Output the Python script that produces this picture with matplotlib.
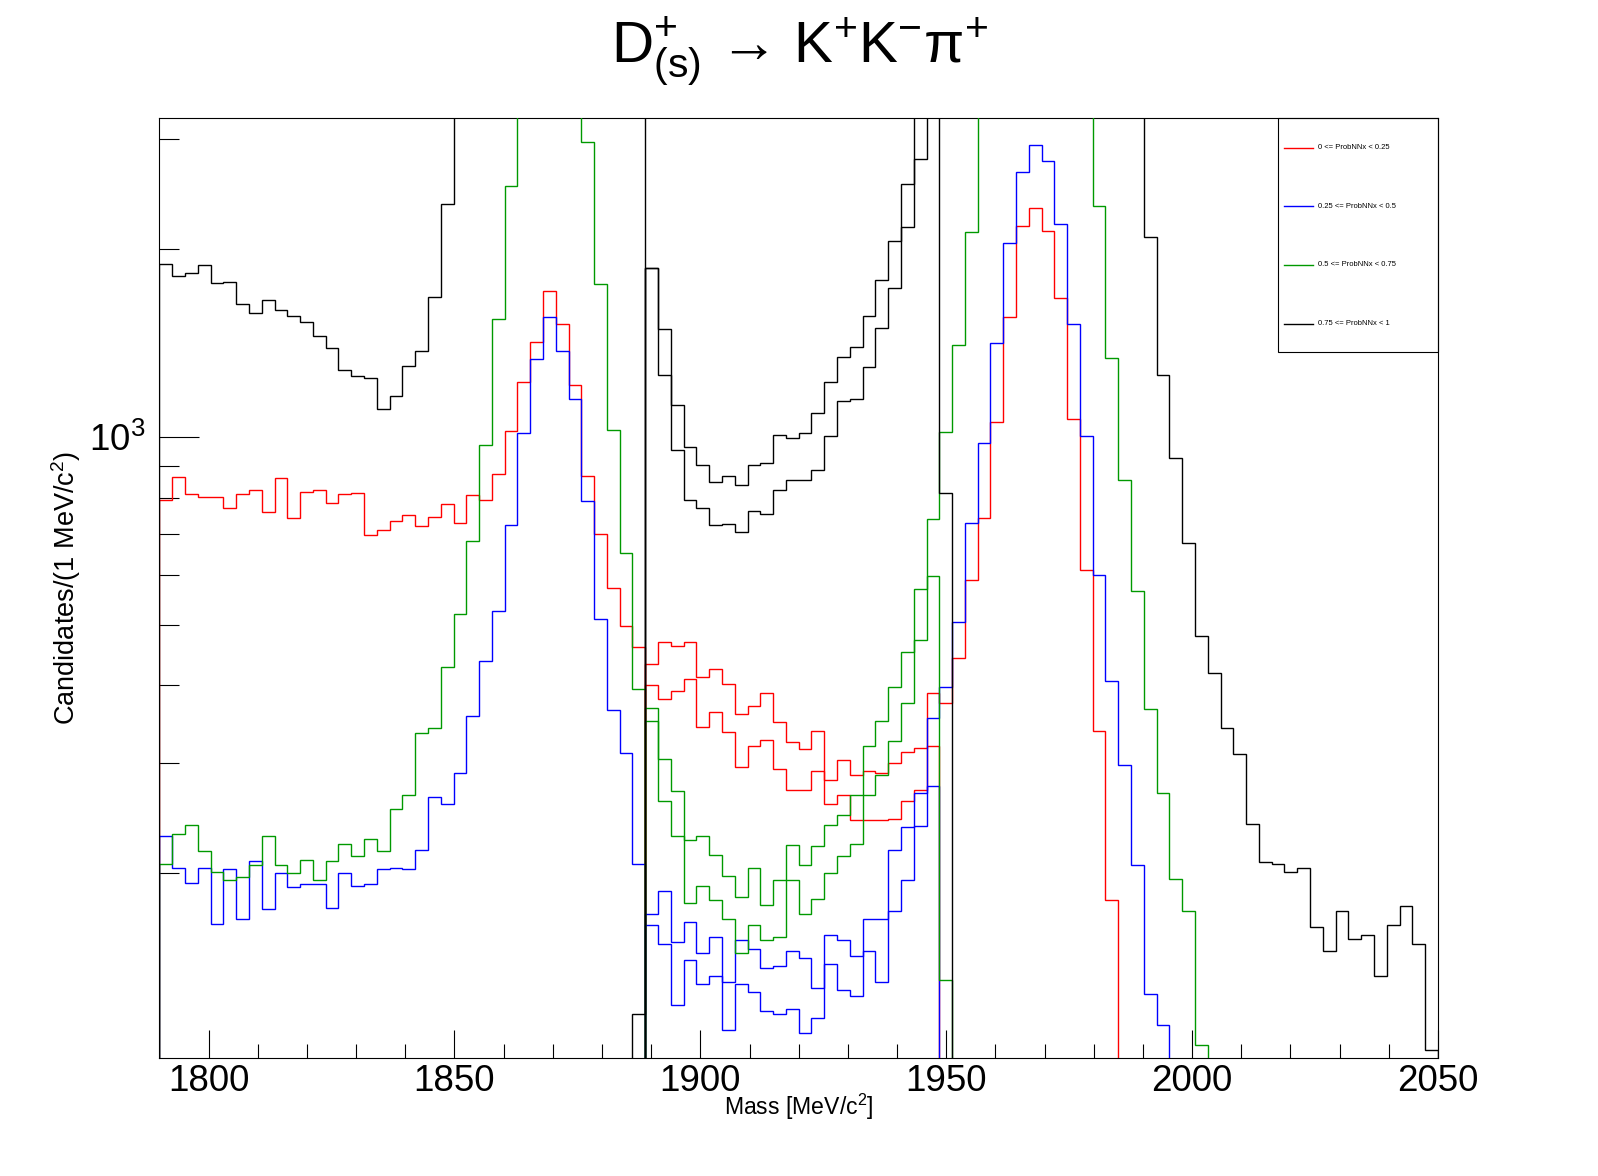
import numpy as np
import matplotlib
matplotlib.use("Agg")
import matplotlib.pyplot as plt
from matplotlib.ticker import FixedLocator, NullFormatter, FixedFormatter
from matplotlib.patches import Rectangle

# ---------------------------------------------------------------
# style (ROOT-like look)
# ---------------------------------------------------------------
plt.rcParams['font.family'] = ['Liberation Sans', 'DejaVu Sans']
plt.rcParams['mathtext.fontset'] = 'custom'
plt.rcParams['mathtext.rm'] = 'Liberation Sans'
plt.rcParams['mathtext.it'] = 'Liberation Sans:italic'
plt.rcParams['mathtext.bf'] = 'Liberation Sans:bold'

# ---------------------------------------------------------------
# binning : 100 bins of 2.6 MeV between 1790 and 2050
# ---------------------------------------------------------------
m_lo, m_hi, n_bins = 1790.0, 2050.0, 100
edges = np.linspace(m_lo, m_hi, n_bins + 1)

# D+ side window (bins 0..37)
red_left = [792, 864, 811, 802, 802, 770, 811, 824, 759, 861, 742, 817, 824, 785, 811,
            814, 697, 710, 734, 751, 721, 745, 782, 729, 808, 794, 874, 1021, 1227, 1422,
            1716, 1519, 1213, 867, 698, 572, 497, 460]
blue_left = [229, 204, 193, 204, 166, 203, 169, 209, 175, 200, 190, 192, 192, 176, 200,
             191, 192, 203, 204, 203, 218, 265, 258, 289, 357, 438, 527, 724, 1016, 1336,
             1559, 1375, 1152, 791, 510, 365, 312, 207]
green_left = [207, 231, 239, 217, 201, 195, 197, 206, 229, 206, 200, 210, 195, 209, 223,
              213, 227, 217, 253, 267, 336, 342, 428, 520, 682, 972, 1544, 2528, 3600, 4500,
              5000, 4700, 3800, 2967, 1757, 1028, 653, 395]
black_left = [1896, 1809, 1834, 1884, 1763, 1774, 1637, 1578, 1660, 1596, 1561, 1532, 1453,
              1391, 1279, 1251, 1242, 1110, 1162, 1301, 1372, 1679, 2366, 3400, 4500, 6200,
              8500, 11500, 14500, 17000, 17500, 16000, 12500, 9000, 6500, 5000, 4200, 3800]

# middle region (bins 38..60), two selections per colour
red_mid_hi = [433, 469, 462, 469, 413, 424, 402, 360, 370, 389, 349, 324, 316, 338, 282,
              304, 287, 292, 289, 300, 313, 317, 389]
red_mid_lo = [400, 380, 391, 409, 343, 362, 337, 296, 320, 327, 294, 272, 272, 292, 258,
              267, 243, 243, 243, 244, 261, 272, 320]
blue_mid_hi = [172, 187, 155, 167, 149, 158, 134, 156, 151, 141, 142, 150, 146, 131, 159,
               156, 147, 169, 169, 218, 237, 269, 354]
blue_mid_lo = [165, 154, 123, 145, 133, 137, 112, 133, 129, 120, 119, 121, 111, 117, 143,
               130, 127, 150, 134, 174, 195, 238, 276]
green_mid_hi = [368, 305, 271, 226, 229, 214, 198, 183, 204, 178, 195, 222, 206, 221, 239,
                248, 267, 320, 351, 398, 452, 571, 740]
green_mid_lo = [350, 261, 229, 179, 191, 181, 169, 149, 165, 156, 158, 195, 172, 182, 200,
                213, 223, 267, 287, 326, 374, 473, 598, 135]          # bins 38..61
black_mid_hi = [1868, 1492, 1127, 965, 903, 848, 867, 839, 903, 908, 1006, 998, 1014, 1094,
                1227, 1345, 1396, 1565, 1787, 2064, 2547, 3500, 3900]
black_mid_lo = [119, 1868, 1259, 952, 792, 770, 724, 726, 705, 762, 754, 822, 852, 852, 887,
                1005, 1144, 1152, 1297, 1497, 1735, 2174, 2793, 3700, 814]  # bins 37..61

# Ds side (starting at bin 61)
red_right = [375, 443, 589, 741, 1056, 1559, 2176, 2325, 2142, 1673, 1070, 613, 338, 181]
blue_right = [397, 506, 729, 979, 1417, 2049, 2663, 2942, 2773, 2198, 1518, 1005, 600, 406,
              298, 206, 128, 114]
green_right = [1017, 1406, 2134, 3300, 4600, 6000, 7200, 7600, 7100, 5900, 4500, 3400, 2348,
               1337, 852, 566, 366, 269, 196, 174, 106]
black_right = [4300, 5200, 7000, 9800, 13500, 18000, 22000, 24000, 22500, 18500, 13500, 9500,
               6500, 4700, 3900, 3400, 2089, 1259, 927, 676, 480, 418, 342, 310, 240, 208,
               207, 201, 204, 164, 150, 174, 157, 159, 137, 165, 177, 154, 104]

legend_labels = ['0 <= ProbNNx < 0.25', '0.25 <= ProbNNx < 0.5',
                 '0.5 <= ProbNNx < 0.75', '0.75 <= ProbNNx < 1']
col_red, col_blue, col_green, col_black = '#ff0000', '#0000ff', '#009900', '#000000'


def draw_hist(ax, first_bin, values, color, z):
    vals = np.asarray(values, dtype=float)
    e = edges[first_bin:first_bin + len(vals) + 1]
    ax.stairs(vals, e, baseline=1.0, color=color, lw=1.0, zorder=z)


fig = plt.figure(figsize=(15.98, 11.76), dpi=100)
ax = fig.add_axes([0.0998, 0.1, 0.8, 0.8])

# red
draw_hist(ax, 0, red_left, col_red, 2)
draw_hist(ax, 38, red_mid_hi + red_right, col_red, 2)
draw_hist(ax, 38, red_mid_lo, col_red, 2)
# blue
draw_hist(ax, 0, blue_left, col_blue, 3)
draw_hist(ax, 38, blue_mid_hi + blue_right, col_blue, 3)
draw_hist(ax, 38, blue_mid_lo, col_blue, 3)
# green
draw_hist(ax, 0, green_left, col_green, 4)
draw_hist(ax, 38, green_mid_hi + green_right, col_green, 4)
draw_hist(ax, 38, green_mid_lo, col_green, 4)
# black
draw_hist(ax, 0, black_left, col_black, 5)
draw_hist(ax, 38, black_mid_hi + black_right, col_black, 5)
draw_hist(ax, 37, black_mid_lo, col_black, 5)

ax.set_xlim(m_lo, m_hi)
ax.set_yscale('log')
ax.set_ylim(100.9, 3252)

# ticks
ax.xaxis.set_major_locator(FixedLocator([1800, 1850, 1900, 1950, 2000, 2050]))
ax.xaxis.set_minor_locator(FixedLocator(np.arange(1800, 2051, 10)))
ax.yaxis.set_major_locator(FixedLocator([1000]))
ax.yaxis.set_major_formatter(FixedFormatter([r'$10^{3}$']))
ax.yaxis.set_minor_locator(FixedLocator([200, 300, 400, 500, 600, 700, 800, 900, 2000, 3000]))
ax.yaxis.set_minor_formatter(NullFormatter())
ax.tick_params(axis='x', which='major', direction='in', length=20, width=0.8,
               labelsize=26.5, pad=4, top=False)
ax.tick_params(axis='x', which='minor', direction='in', length=10, width=0.8, top=False)
ax.tick_params(axis='y', which='major', direction='in', length=28.8, width=0.8,
               labelsize=26.5, pad=10, right=False)
ax.tick_params(axis='y', which='minor', direction='in', length=14.4, width=0.8, right=False)
for sp in ax.spines.values():
    sp.set_linewidth(0.8)

# axis titles and title
fig.text(0.4998, 1 - 1115 / 1176, r'Mass [MeV/c$^{2}$]', ha='center', va='baseline',
         fontsize=16.6)
fig.text(0.0413, 0.5, r'Candidates/(1 MeV/c$^{2}$)', rotation=90, ha='center',
         va='center', fontsize=19.5)
fig.text(0.5, 1 - 63 / 1176, 'D$^{+}_{\\mathrm{(s)}}$ \u2192 K$^{+}$K$^{-}$\u03c0$^{+}$',
         ha='center', va='baseline', fontsize=42)

# legend box (TLegend 0.8,0.7 -> 0.9,0.9)
ax.add_patch(Rectangle((0.875, 0.7508), 0.125, 0.2492, transform=ax.transAxes,
                       fill=False, edgecolor='black', lw=0.8, zorder=6, clip_on=False))
leg_y = [0.9679, 0.9059, 0.8435, 0.7809]
for yy, lab, c in zip(leg_y, legend_labels, [col_red, col_blue, col_green, col_black]):
    ax.plot([0.880, 0.902], [yy, yy], color=c, lw=1.0, transform=ax.transAxes,
            zorder=6, clip_on=False)
    ax.text(0.9065, yy, lab, transform=ax.transAxes, fontsize=5.5, ha='left',
            va='center', zorder=6)

fig.savefig('out.png', dpi=100)
